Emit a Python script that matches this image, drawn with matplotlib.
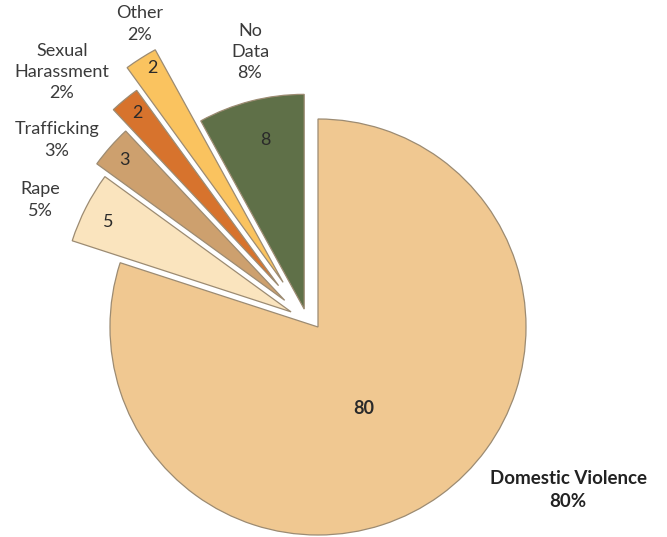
import numpy as np
import matplotlib
matplotlib.use("Agg")
import matplotlib.pyplot as plt
from matplotlib.patches import Wedge

# ---- data ----
categories = ["Domestic Violence", "Rape", "Trafficking", "Sexual\nHarassment", "Other", "No\nData"]
values = [80, 5, 3, 2, 2, 8]

# ---- styles / layout (pixels, y measured from top) ----
colors = ["#F0C891", "#FAE4BE", "#CDA06E", "#D7732D", "#FAC35F", "#5F7048"]
radii = [208, 248, 262, 286, 310, 226]
edge_col = "#9C8B72"
W, H = 667, 537
dv_center = (318, 327)
apex = (307, 320)
gap = 2.8
inner_pos = [(364, 409), (108, 222), (124, 160), (137, 113), (152, 68), (265, 140)]
inner_bold = [True, False, False, False, False, False]
outer_pos = [(568, 490), (40, 200), (57, 140), (62, 72), (140, 24), (250, 52)]
outer_bold = [True, False, False, False, False, False]

plt.rcParams['font.family'] = ['Lato', 'DejaVu Sans']

fig = plt.figure(figsize=(W / 100, H / 100), dpi=100)
ax = fig.add_axes([0, 0, 1, 1])
ax.set_xlim(0, W)
ax.set_ylim(0, H)
ax.set_aspect('equal')
ax.axis('off')

total = sum(values)
theta_end = 90.0
for i, v in enumerate(values):
    span = 360.0 * v / total
    t2 = theta_end
    t1 = theta_end - span
    theta_end = t1
    if i == 0:
        cx, cy = dv_center[0], H - dv_center[1]
        r = radii[i]
    else:
        mid = np.deg2rad((t1 + t2) / 2)
        half = np.deg2rad(span / 2)
        s = gap / np.sin(half)
        cx = apex[0] + s * np.cos(mid)
        cy = (H - apex[1]) + s * np.sin(mid)
        r = radii[i] - s
    w = Wedge((cx, cy), r, t1, t2, facecolor=colors[i], edgecolor=edge_col, linewidth=0.9)
    ax.add_patch(w)

for i, cat in enumerate(categories):
    x, y = inner_pos[i]
    ax.text(x, H - y, str(values[i]), ha='center', va='center', fontsize=13,
            fontweight='bold' if inner_bold[i] else 'normal', color='#2a2a2a')
    x, y = outer_pos[i]
    lab = cat.replace("\n", " ") if i == 0 else cat
    ax.text(x, H - y, f"{lab}\n{values[i]}%", ha='center', va='center',
            fontsize=13.5 if outer_bold[i] else 13,
            fontweight='bold' if outer_bold[i] else 'normal',
            color='#222222' if outer_bold[i] else '#3a3a3a',
            linespacing=1.4)

fig.savefig("out.png", dpi=100, facecolor='white')
